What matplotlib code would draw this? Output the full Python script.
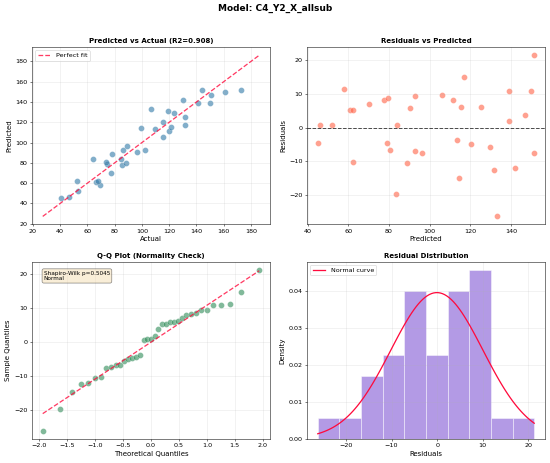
import matplotlib
matplotlib.use("Agg")
import matplotlib.pyplot as plt
import numpy as np
from statistics import NormalDist

model_name = "C4_Y2_X_allsub"
r2 = 0.908
shapiro_p = 0.5045

# predicted values and residuals (actual - predicted)
predicted = np.array([45, 46, 52, 58, 61, 62.5, 62.5, 70, 77.5, 79.5, 79, 80.5,
                      83.5, 84, 89, 90.5, 93, 93, 96.5, 106, 111.5, 113.5, 114.5,
                      115.5, 117, 120.5, 125.5, 129.5, 131.5, 133, 139, 139, 142,
                      147, 150, 151.5, 151.5])
residuals = np.array([-4.5, 0.8, 0.8, 11.3, 5.2, 5.3, -10.3, 7.0, 8.2, 8.6, -4.7,
                      -6.7, -19.7, 0.6, -10.6, 5.9, 9.3, -6.9, -7.4, 9.5, 8.1,
                      -3.8, -14.8, 6.0, 14.8, -5.0, 6.2, -5.6, -12.5, -26.2, 1.8,
                      10.9, -12.0, 3.7, 10.8, 21.3, -7.6])
actual = predicted + residuals

line_red = "#ff0a3c"

fig, axes = plt.subplots(2, 2, figsize=(550 / 46, 463 / 46), dpi=46)
fig.suptitle(f"Model: {model_name}", fontsize=14, fontweight="bold", y=0.981, va="center")

# predicted vs actual
ax = axes[0, 0]
ax.scatter(actual, predicted, alpha=0.6, s=85, color="#2f78a8", edgecolors="white", linewidths=0.5)
lo = min(actual.min(), predicted.min())
hi = max(actual.max(), predicted.max())
pad = (hi - lo) * 0.1
ax.plot([lo - pad, hi + pad], [lo - pad, hi + pad], "--", color=line_red, lw=2, alpha=0.8, label="Perfect fit")
ax.set_xlabel("Actual", fontsize=11)
ax.set_ylabel("Predicted", fontsize=11)
ax.set_title(f"Predicted vs Actual (R2={r2:.3f})", fontsize=11, fontweight="bold")
ax.legend(loc="upper left")
ax.grid(True, alpha=0.3)

# residuals vs predicted
ax = axes[0, 1]
ax.scatter(predicted, residuals, alpha=0.6, s=85, color="tomato", edgecolors="white", linewidths=0.5)
ax.axhline(0, color="black", ls="--", lw=1.5, alpha=0.7)
ax.set_xlabel("Predicted", fontsize=11)
ax.set_ylabel("Residuals", fontsize=11)
ax.set_title("Residuals vs Predicted", fontsize=11, fontweight="bold")
ax.grid(True, alpha=0.3)

# Q-Q plot
ax = axes[1, 0]
n = len(residuals)
theo = np.array([NormalDist().inv_cdf(i / (n + 1)) for i in range(1, n + 1)])
sample = np.sort(residuals)
slope, icpt = np.polyfit(theo, sample, 1)
ax.scatter(theo, sample, alpha=0.6, s=85, color="#2e8b57", edgecolors="white", linewidths=0.5)
ax.plot(theo, slope * theo + icpt, "--", color=line_red, lw=2, alpha=0.8)
ax.set_xlabel("Theoretical Quantiles", fontsize=11)
ax.set_ylabel("Sample Quantiles", fontsize=11)
ax.set_title("Q-Q Plot (Normality Check)", fontsize=11, fontweight="bold")
ax.text(0.05, 0.95, f"Shapiro-Wilk p={shapiro_p:.4f}\nNormal", transform=ax.transAxes,
        fontsize=9, va="top", bbox=dict(boxstyle="round", facecolor="wheat", alpha=0.5))
ax.grid(True, alpha=0.3)

# residual distribution
ax = axes[1, 1]
ax.hist(residuals, bins=10, density=True, alpha=0.7, color="mediumpurple", edgecolor="white")
mu, sd = residuals.mean(), residuals.std()
xs = np.linspace(residuals.min(), residuals.max(), 100)
pdf = np.exp(-0.5 * ((xs - mu) / sd) ** 2) / (sd * np.sqrt(2 * np.pi))
ax.plot(xs, pdf, "-", color=line_red, lw=2, label="Normal curve")
ax.set_xlabel("Residuals", fontsize=11)
ax.set_ylabel("Density", fontsize=11)
ax.set_title("Residual Distribution", fontsize=11, fontweight="bold")
ax.legend(loc="upper left")
ax.grid(True, alpha=0.3)

fig.subplots_adjust(left=0.058, right=0.991, top=0.898, bottom=0.052, wspace=0.155, hspace=0.21)
plt.savefig("out.png", dpi=46)
